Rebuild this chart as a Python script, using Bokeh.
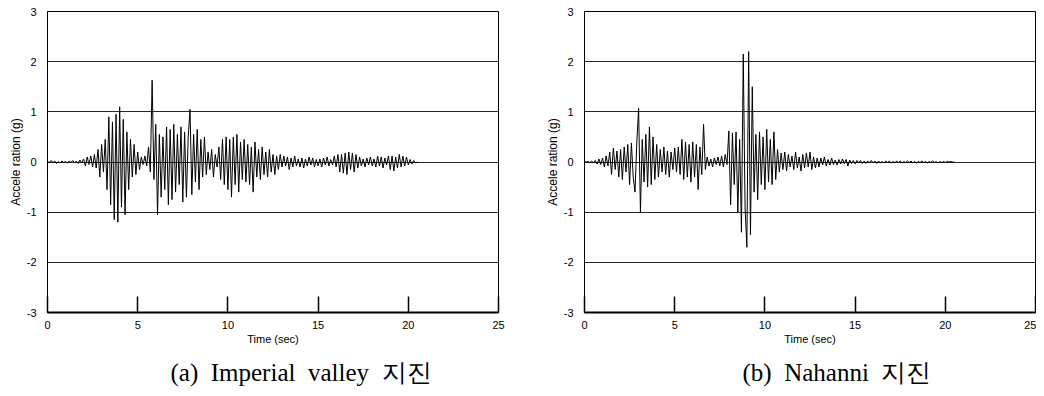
import numpy as np
from bokeh.plotting import figure
from bokeh.layouts import row
from bokeh.models import Title, FixedTicker, PrintfTickFormatter
from bokeh.embed import file_html
from bokeh.resources import INLINE

DT = 0.1  # sampling step of the hand-read records (sec)

imperial_acc = [
    0.02, -0.02, 0.03, -0.01, 0.02, -0.03, 0.01, -0.02, 0.02, -0.01,
    0.01, -0.02, 0.02, -0.01, 0.03, -0.02, 0.02, -0.03, 0.04, -0.02,
    0.06, -0.08, 0.10, -0.05, 0.12, -0.10, 0.15, -0.12, 0.25, -0.30,
    0.35, -0.20, 0.45, -0.55, 0.90, -0.85, 0.80, -1.15, 0.95, -1.20,
    1.10, -0.90, 0.85, -1.05, 0.60, -0.55, 0.45, -0.30, 0.35, -0.25,
    0.20, -0.15, 0.10, -0.05, 0.12, -0.08, 0.30, -0.20, 1.63, -0.35,
    0.75, -1.05, 0.55, -0.70, 0.50, -0.55, 0.70, -0.85, 0.65, -0.75,
    0.75, -0.60, 0.55, -0.45, 0.70, -0.80, 0.60, -0.70, 0.50, 1.05,
    -0.65, 0.55, -0.40, 0.65, -0.55, 0.45, -0.30, 0.50, -0.25, 0.20,
    -0.15, 0.25, -0.30, 0.15, -0.10, 0.30, -0.35, 0.45, -0.45, 0.50,
    -0.55, 0.45, -0.70, 0.50, -0.45, 0.55, -0.60, 0.40, -0.35, 0.45,
    -0.40, 0.35, -0.45, 0.30, -0.60, 0.40, -0.30, 0.25, -0.35, 0.30,
    -0.25, 0.20, -0.30, 0.25, -0.20, 0.15, -0.25, 0.12, -0.15, 0.15,
    -0.10, 0.12, -0.08, 0.10, -0.15, 0.08, -0.10, 0.12, -0.08, 0.06,
    -0.10, 0.08, -0.12, 0.06, -0.08, 0.10, -0.06, 0.08, -0.10, 0.05,
    -0.08, 0.06, -0.10, 0.08, -0.06, 0.10, -0.08, 0.05, -0.06, 0.12,
    -0.10, 0.15, -0.20, 0.15, -0.22, 0.18, -0.25, 0.20, -0.15, 0.18,
    -0.20, 0.15, -0.12, 0.10, -0.08, 0.06, -0.10, 0.08, -0.06, 0.10,
    -0.08, 0.06, -0.10, 0.12, -0.08, 0.10, -0.12, 0.08, -0.06, 0.12,
    -0.15, 0.12, -0.18, 0.10, -0.12, 0.15, -0.10, 0.12, -0.08, 0.10,
    -0.06, 0.05, -0.04, 0.03, -0.02, 0.00,
]

nahanni_acc = [
    0.01, 0.00, 0.01, -0.01, 0.02, -0.02, 0.03, -0.04, 0.06, -0.05,
    0.08, -0.10, 0.12, -0.08, 0.20, -0.25, 0.28, -0.15, 0.22, -0.30,
    0.25, -0.35, 0.30, -0.20, 0.35, -0.45, 0.38, -0.30, -0.60, 0.40,
    1.07, -1.00, 0.45, -0.40, 0.55, -0.50, 0.70, -0.45, 0.50, -0.35,
    0.35, -0.30, 0.25, -0.20, 0.30, -0.25, 0.22, -0.30, 0.20, -0.15,
    0.28, -0.20, 0.30, -0.25, 0.45, -0.35, 0.40, -0.30, 0.35, -0.40,
    0.40, -0.30, 0.35, -0.55, 0.30, -0.25, 0.75, -0.15, 0.10, -0.08,
    0.06, -0.10, 0.08, -0.05, 0.10, -0.08, 0.12, -0.10, 0.15, -0.05,
    0.62, -0.85, 0.58, -0.45, 0.60, -1.00, 0.45, -1.40, 2.15, -0.90,
    -1.70, 2.20, -1.45, 1.50, -0.60, 0.55, -0.75, 0.60, -0.45, 0.50,
    -0.55, 0.65, -0.40, 0.45, -0.45, 0.60, -0.35, 0.25, -0.20, 0.18,
    -0.15, 0.20, -0.18, 0.15, -0.10, 0.12, -0.15, 0.20, -0.12, 0.10,
    -0.18, 0.15, -0.12, 0.18, -0.10, 0.20, -0.15, 0.10, -0.12, 0.08,
    -0.10, 0.08, -0.06, 0.10, -0.08, 0.05, -0.06, 0.08, -0.05, 0.04,
    -0.06, 0.05, -0.04, 0.06, -0.03, 0.05, -0.08, 0.04, -0.03, 0.03,
    -0.04, 0.03, -0.02, 0.03, -0.03, 0.02, -0.03, 0.02, -0.02, 0.03,
    -0.02, 0.02, -0.03, 0.02, -0.02, 0.01, -0.02, 0.02, -0.01, 0.02,
    -0.02, 0.01, -0.02, 0.02, -0.01, 0.02, -0.02, 0.01, -0.01, 0.02,
    -0.01, 0.02, -0.02, 0.01, -0.02, 0.01, -0.01, 0.02, -0.01, 0.01,
    -0.02, 0.01, -0.01, 0.02, -0.01, 0.01, -0.02, 0.01, -0.01, 0.01,
    -0.01, 0.01, 0.00, 0.01, 0.00, 0.00,
]

x_ticks = [0, 5, 10, 15, 20, 25]
y_ticks = [-3, -2, -1, 0, 1, 2, 3]
captions = ["(a)\u00a0 Imperial\u00a0 valley\u00a0 지진", "(b)\u00a0 Nahanni\u00a0 지진"]
x_label = "Time (sec)"
y_label = "Accele ration (g)"

SANS = "Liberation Sans"
SERIF = "Liberation Serif"


def make_panel(acc, caption, left, right, cap_offset):
    t = np.arange(len(acc)) * DT
    p = figure(frame_width=451, frame_height=301, x_range=(0, 25), y_range=(-3, 3),
               output_backend="svg", toolbar_location=None,
               min_border_left=left, min_border_right=right,
               min_border_top=11, min_border_bottom=82)
    p.background_fill_color = "white"
    p.border_fill_color = "white"
    p.outline_line_color = "black"
    p.outline_line_width = 1
    p.line(t, acc, line_color="black", line_width=1)

    p.xgrid.visible = False
    p.ygrid.ticker = FixedTicker(ticks=y_ticks)
    p.ygrid.grid_line_color = "black"
    p.ygrid.grid_line_width = 1
    p.ygrid.grid_line_alpha = 0.85

    xa = p.xaxis[0]
    xa.ticker = FixedTicker(ticks=x_ticks)
    xa.formatter = PrintfTickFormatter(format="%d")
    xa.major_tick_in = 16
    xa.major_tick_out = 0
    xa.major_tick_line_width = 1.5
    xa.major_tick_line_color = "black"
    xa.minor_tick_line_color = None
    xa.axis_line_color = "black"
    xa.axis_line_width = 2
    xa.major_label_text_font = SANS
    xa.major_label_text_font_size = "11px"
    xa.major_label_text_color = "black"
    xa.major_label_standoff = 8
    xa.axis_label = x_label
    xa.axis_label_text_font = SANS
    xa.axis_label_text_font_size = "11px"
    xa.axis_label_text_font_style = "normal"
    xa.axis_label_text_color = "black"
    xa.axis_label_standoff = 1

    ya = p.yaxis[0]
    ya.ticker = FixedTicker(ticks=y_ticks)
    ya.formatter = PrintfTickFormatter(format="%d")
    ya.major_tick_line_color = None
    ya.minor_tick_line_color = None
    ya.axis_line_color = "black"
    ya.axis_line_width = 1
    ya.major_label_text_font = SANS
    ya.major_label_text_font_size = "11px"
    ya.major_label_text_color = "black"
    ya.major_label_standoff = 5
    ya.axis_label = y_label
    ya.axis_label_text_font = SANS
    ya.axis_label_text_font_size = "12px"
    ya.axis_label_text_font_style = "normal"
    ya.axis_label_text_color = "black"
    ya.axis_label_standoff = 1

    cap = Title(text=caption, align="left", offset=cap_offset, standoff=18,
                text_font=SERIF, text_font_size="25px", text_font_style="normal",
                text_color="black")
    p.add_layout(cap, "below")
    return p


p1 = make_panel(imperial_acc, captions[0], 47, 30, 123)
p2 = make_panel(nahanni_acc, captions[1], 56, 1, 158)
layout = row(p1, p2, spacing=0)

open("out.html", "w").write(file_html(layout, INLINE))
